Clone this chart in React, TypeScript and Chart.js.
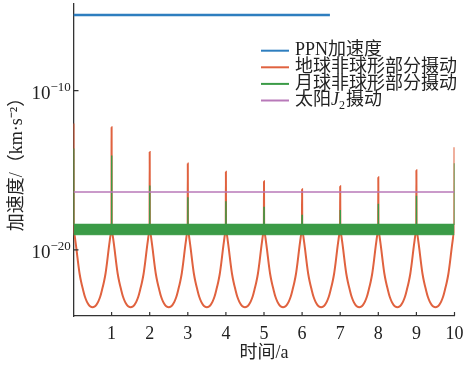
import React, { useEffect, useRef } from 'react';
import { Chart, registerables } from 'chart.js';

Chart.register(...registerables);

// ---- data (log10 of acceleration, km/s^2) ----
const years = [0, 1, 2, 3, 4, 5, 6, 7, 8, 9, 10];
const earthPeakExp = [-12.06, -12.3, -13.86, -14.57, -15.1, -15.69, -16.19, -16.0, -15.44, -15.0, -13.56];
const moonPeakExp = [-13.64, -14.08, -15.96, -16.7, -16.95, -17.3, -17.8, -17.5, -17.1, -16.6, -14.56];
const valleyOffsets = [0.004, 0.02, 0.05, 0.08, 0.12, 0.16, 0.2, 0.25, 0.3, 0.35, 0.4, 0.45, 0.5];
const valleyExp = [-18.6, -19.0, -19.45, -20.0, -20.8, -21.5, -22.0, -22.5, -22.95, -23.25, -23.45, -23.57, -23.6];
const moonBandTopExp = -18.4;
const moonBandBottomExp = -19.05;
const sunJ2X = [0, 10];
const sunJ2Exp = [-16.37, -16.37];
const ppnX = [0, 0.99, 1.0, 1.01, 6.73];
const ppnExp = [-5.25, -5.25, -5.19, -5.25, -5.25];
const yTickExp = [-20, -10];
const xTickValues = [1, 2, 3, 4, 5, 6, 7, 8, 9, 10];
const seriesLabels = ['PPN加速度', '地球非球形部分摄动', '月球非球形部分摄动', '太阳J2摄动'];

const COLORS = { blue: '#2e7ebf', orange: '#e0623f', green: '#3b9b47', purple: '#b879b9' };
const SERIF = '"Liberation Serif", "Noto Sans CJK SC", serif';

const p = (x: number, e: number) => ({ x, y: Math.pow(10, e) });

function buildEarth() {
  const pts: { x: number; y: number }[] = [];
  years.forEach((k, i) => {
    pts.push(p(k, earthPeakExp[i]));
    if (i < years.length - 1) {
      for (let j = 0; j < valleyOffsets.length; j++) pts.push(p(k + valleyOffsets[j], valleyExp[j]));
      for (let j = valleyOffsets.length - 2; j >= 0; j--) pts.push(p(k + 1 - valleyOffsets[j], valleyExp[j]));
    }
  });
  return pts;
}

function buildMoonTop() {
  const pts: { x: number; y: number }[] = [];
  years.forEach((k, i) => {
    if (i > 0) pts.push(p(k - 0.004, moonBandTopExp));
    pts.push(p(k, moonPeakExp[i]));
    if (i < years.length - 1) pts.push(p(k + 0.004, moonBandTopExp));
  });
  return pts;
}

const overlay = {
  id: 'overlay',
  afterDraw(chart: any) {
    const { ctx, chartArea, scales } = chart;
    const xs = scales.x, ys = scales.y;
    ctx.save();
    // inward ticks
    ctx.strokeStyle = '#333';
    ctx.lineWidth = 1.2;
    ctx.beginPath();
    xTickValues.forEach((v) => {
      const px = xs.getPixelForValue(v);
      ctx.moveTo(px, chartArea.bottom);
      ctx.lineTo(px, chartArea.bottom - 4);
    });
    yTickExp.forEach((e) => {
      const py = ys.getPixelForValue(Math.pow(10, e));
      ctx.moveTo(chartArea.left, py);
      ctx.lineTo(chartArea.left + 5, py);
    });
    ctx.stroke();
    // y tick labels 10^e
    ctx.fillStyle = '#222';
    ctx.textAlign = 'left';
    ctx.textBaseline = 'alphabetic';
    yTickExp.forEach((e) => {
      const py = ys.getPixelForValue(Math.pow(10, e));
      ctx.font = '19px "Liberation Serif", serif';
      const x0 = 31.5;
      ctx.fillText('10', x0, py + 8.5);
      const w = ctx.measureText('10').width;
      ctx.font = '13px "Liberation Serif", serif';
      ctx.fillText('\u2212' + String(-e), x0 + w, py + 0.5);
    });
    // legend
    const rows = [50.7, 67.3, 83.9, 100.5];
    const colors = [COLORS.blue, COLORS.orange, COLORS.green, COLORS.purple];
    ctx.textBaseline = 'middle';
    rows.forEach((ry, i) => {
      ctx.strokeStyle = colors[i];
      ctx.lineWidth = 2;
      ctx.beginPath();
      ctx.moveTo(261, ry);
      ctx.lineTo(289, ry);
      ctx.stroke();
      ctx.fillStyle = '#222';
      ctx.font = '18px ' + SERIF;
      let tx = 295;
      if (i === 3) {
        const label = seriesLabels[3];
        const a = label.slice(0, 2), b = label.slice(4);
        ctx.fillText(a, tx, ry);
        tx += ctx.measureText(a).width;
        ctx.font = 'italic 18px "Liberation Serif", serif';
        ctx.fillText('J', tx, ry);
        tx += ctx.measureText('J').width;
        ctx.font = '12px "Liberation Serif", serif';
        ctx.fillText('2', tx, ry + 5);
        tx += ctx.measureText('2').width + 1;
        ctx.font = '18px ' + SERIF;
        ctx.fillText(b, tx, ry);
      } else {
        ctx.fillText(seriesLabels[i], tx, ry);
      }
    });
    ctx.restore();
  },
};

export default function App() {
  const ref = useRef<HTMLCanvasElement>(null);
  useEffect(() => {
    document.body.style.margin = '0';
    const chart = new Chart(ref.current as HTMLCanvasElement, {
      type: 'line',
      data: {
        datasets: [
          {
            label: seriesLabels[0],
            data: ppnX.map((x, i) => p(x, ppnExp[i])),
            borderColor: COLORS.blue,
            borderWidth: 2.5,
            order: 4,
          },
          {
            label: seriesLabels[1],
            data: buildEarth(),
            borderColor: COLORS.orange,
            borderWidth: 2,
            cubicInterpolationMode: 'monotone',
            order: 3,
          },
          {
            label: seriesLabels[2],
            data: buildMoonTop(),
            borderColor: COLORS.green,
            borderWidth: 1.4,
            order: 2,
          },
          {
            label: '',
            data: [p(0, moonBandBottomExp), p(10, moonBandBottomExp)],
            borderColor: COLORS.green,
            borderWidth: 1,
            backgroundColor: COLORS.green,
            fill: '-1',
            order: 2,
          },
          {
            label: seriesLabels[3],
            data: sunJ2X.map((x, i) => p(x, sunJ2Exp[i])),
            borderColor: COLORS.purple,
            borderWidth: 1.6,
            order: 0,
          },
        ] as any,
      },
      options: {
        animation: false,
        responsive: true,
        maintainAspectRatio: false,
        layout: { padding: { top: 4, right: 0, left: 0, bottom: 0 } },
        elements: { point: { radius: 0 } },
        plugins: { legend: { display: false }, tooltip: { enabled: false } },
        scales: {
          x: {
            type: 'linear',
            min: 0,
            max: 10,
            grid: { display: false, drawTicks: false },
            border: { display: true, color: '#333', width: 1.3 },
            ticks: {
              stepSize: 1,
              autoSkip: false,
              maxRotation: 0,
              padding: 7,
              color: '#222',
              font: { family: SERIF, size: 18 },
              callback: (v: any) => (v === 0 ? '' : String(v)),
            },
            title: {
              display: true,
              text: '时间/a',
              color: '#222',
              font: { family: SERIF, size: 18 },
              padding: { top: 0, bottom: 3 },
            },
            afterFit: (s: any) => {
              s.height = 51;
              s.paddingLeft = 0;
              s.paddingRight = 9.5;
            },
          },
          y: {
            type: 'logarithmic',
            min: Math.pow(10, -24.14),
            max: Math.pow(10, -4.56),
            grid: { display: false, drawTicks: false },
            border: { display: true, color: '#333', width: 1.3 },
            ticks: { display: false },
            afterBuildTicks: (s: any) => {
              s.ticks = yTickExp.map((e) => ({ value: Math.pow(10, e) }));
            },
            title: {
              display: true,
              text: '加速度/（km·s⁻²）',
              color: '#222',
              font: { family: SERIF, size: 18 },
              padding: { top: 6, bottom: 0 },
            },
            afterFit: (s: any) => {
              s.width = 73.5;
            },
          },
        },
      } as any,
      plugins: [overlay],
    });
    return () => chart.destroy();
  }, []);
  return (
    <div style={{ width: 464, height: 367, position: 'relative' }}>
      <canvas ref={ref} />
    </div>
  );
}
